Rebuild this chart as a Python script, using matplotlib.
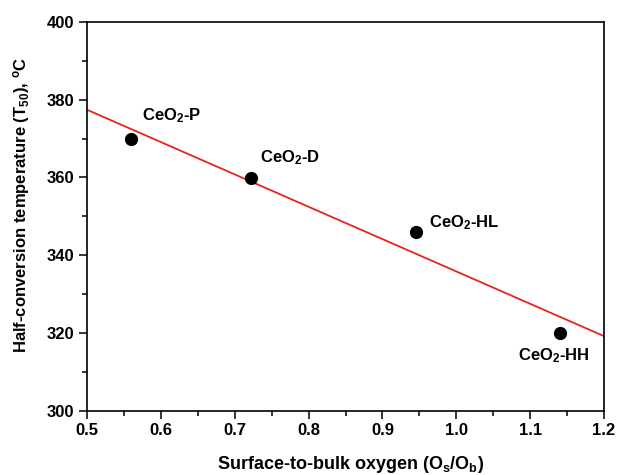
import numpy as np
import matplotlib
matplotlib.use("Agg")
import matplotlib.pyplot as plt
from matplotlib.ticker import MultipleLocator

plt.rcParams["font.family"] = ["Liberation Sans", "DejaVu Sans"]
plt.rcParams["font.weight"] = "bold"
plt.rcParams["mathtext.fontset"] = "custom"
plt.rcParams["mathtext.rm"] = "Liberation Sans:bold"
plt.rcParams["mathtext.it"] = "Liberation Sans:bold"
plt.rcParams["mathtext.bf"] = "Liberation Sans:bold"

# data
samples = ["CeO$_2$-P", "CeO$_2$-D", "CeO$_2$-HL", "CeO$_2$-HH"]
os_ob = [0.56, 0.722, 0.946, 1.14]
t50 = [369.8, 359.9, 346.1, 320.1]
label_x = [0.574, 0.734, 0.963, 1.083]
label_y = [374.8, 364.0, 347.3, 312.9]

fig = plt.figure(figsize=(6.22, 4.75), dpi=100)
ax = fig.add_axes([0.140, 0.135, 0.831, 0.819])

# linear fit through the points
slope, icept = np.polyfit(os_ob, t50, 1)
xfit = np.array([0.5, 1.2])
ax.plot(xfit, slope * xfit + icept, color="#e8231f", lw=1.3, zorder=2)

ax.plot(os_ob, t50, "o", color="black", ms=8.5, zorder=3)

for name, lx, ly in zip(samples, label_x, label_y):
    ax.text(lx, ly, name, fontsize=12, fontweight="bold", ha="left", va="baseline")

ax.set_xlim(0.5, 1.2)
ax.set_ylim(300, 400)
ax.xaxis.set_major_locator(MultipleLocator(0.1))
ax.xaxis.set_minor_locator(MultipleLocator(0.05))
ax.yaxis.set_major_locator(MultipleLocator(20))
ax.yaxis.set_minor_locator(MultipleLocator(10))
ax.set_xticklabels([f"{v:.1f}" for v in ax.get_xticks()])
ax.tick_params(which="major", direction="out", length=6, width=1.1, labelsize=12, pad=3)
ax.tick_params(which="minor", direction="out", length=3.5, width=1.1)
for lbl in ax.get_xticklabels() + ax.get_yticklabels():
    lbl.set_fontweight("bold")
for sp in ax.spines.values():
    sp.set_linewidth(1.2)

ax.set_xlabel("Surface-to-bulk oxygen (O$_s$/O$_b$)", fontsize=13, fontweight="bold")
ax.set_ylabel("Half-conversion temperature (T$_{50}$), $^{\\mathrm{o}}$C", fontsize=12,
              fontweight="bold")
ax.xaxis.set_label_coords(0.51, -0.11)
ax.yaxis.set_label_coords(-0.106, 0.53)

fig.savefig("out.png", dpi=100)
